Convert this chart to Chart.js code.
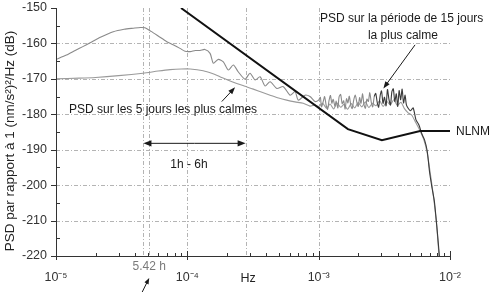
<!DOCTYPE html>
<html><head><meta charset="utf-8">
<script src="https://cdn.jsdelivr.net/npm/chart.js@4.4.0/dist/chart.umd.min.js"></script>
<style>html,body{margin:0;padding:0;background:#fff}#wrap{width:492px;height:292px}</style>
</head><body><div id="wrap"><canvas id="c" width="492" height="292"></canvas></div>
<script>
// ---- data ----
const freq15 = [1.0e-5,1.2e-5,1.4e-5,1.6e-5,1.82e-5,2.2e-5,2.73e-5,3.3e-5,3.88e-5,4.4e-5,4.76e-5,5.3e-5,6.0e-5,6.97e-5,7.8e-5,8.79e-5,9.6e-5,1.05e-4,1.15e-4,1.25e-4,1.36e-4,1.49e-4,1.58e-4,1.72e-4,1.88e-4,2.05e-4,2.24e-4,2.44e-4,2.75e-4,3.00e-4,3.28e-4,3.58e-4,3.91e-4,4.27e-4,4.80e-4,5.38e-4,6.06e-4,6.61e-4,7.00e-4,7.87e-4,8.59e-4,9.39e-4,
 1.00e-3,1.03e-3,1.05e-3,1.08e-3,1.11e-3,1.14e-3,1.17e-3,1.20e-3,1.23e-3,1.26e-3,1.29e-3,1.33e-3,1.36e-3,1.40e-3,1.43e-3,1.47e-3,1.51e-3,1.55e-3,1.59e-3,1.63e-3,1.67e-3,1.71e-3,1.76e-3,1.80e-3,1.85e-3,1.90e-3,1.95e-3,2.00e-3,2.05e-3,2.10e-3,2.16e-3,2.21e-3,2.27e-3,2.33e-3,2.39e-3,2.45e-3,2.52e-3,2.58e-3,2.65e-3,2.72e-3,2.79e-3,2.86e-3,2.94e-3,3.01e-3,3.09e-3,3.17e-3,3.26e-3,3.34e-3,3.43e-3,3.52e-3,3.61e-3,3.70e-3,3.80e-3,3.90e-3,4.00e-3,4.10e-3,4.21e-3,4.32e-3,4.43e-3,4.55e-3,4.67e-3,
 5.0e-3,5.24e-3,5.5e-3,5.8e-3,6.1e-3,6.4e-3,6.7e-3,7.0e-3,7.3e-3,7.6e-3,8.0e-3,8.3e-3];
const psd15 = [-164.5,-163.3,-162.0,-160.9,-159.8,-158.2,-156.7,-156.0,-155.7,-155.5,-155.6,-156.6,-157.9,-159.5,-160.4,-161.4,-162.2,-162.3,-162.0,-162.0,-161.7,-162.8,-165.6,-164.5,-165.2,-167.5,-166.1,-168.0,-170.1,-168.4,-170.3,-169.4,-172.0,-170.8,-172.7,-172.2,-174.6,-173.6,-176.0,-174.6,-175.0,-176.4,
 -176.0,-175.2,-177.9,-176.6,-175.0,-177.4,-178.6,-176.1,-174.7,-176.9,-175.8,-177.7,-176.3,-178.2,-175.1,-174.4,-177.0,-176.2,-178.5,-175.6,-176.8,-174.9,-177.6,-178.4,-175.9,-174.6,-176.5,-177.8,-175.3,-176.9,-174.2,-177.2,-178.3,-175.7,-176.4,-173.9,-176.8,-177.9,-175.0,-174.1,-176.6,-178.0,-174.7,-173.4,-176.9,-175.2,-177.6,-173.0,-175.8,-177.4,-173.6,-172.8,-176.4,-174.2,-177.8,-173.3,-175.9,-172.9,-176.8,-174.6,-177.5,
 -179.0,-178.2,-181.5,-183.0,-185.5,-187.2,-190.3,-196.5,-200.8,-204.5,-213.0,-220.0];

const freq5 = [1.0e-5,1.5e-5,2.0e-5,3.0e-5,4.6e-5,6.0e-5,7.4e-5,9.0e-5,1.05e-4,1.32e-4,1.55e-4,1.77e-4,2.05e-4,2.38e-4,2.75e-4,3.18e-4,3.70e-4,4.27e-4,4.95e-4,5.71e-4,6.6e-4,7.63e-4,8.59e-4,9.4e-4,
 1.0e-3,1.07e-3,1.15e-3,1.22e-3,1.3e-3,1.38e-3,1.47e-3,1.56e-3,1.66e-3,1.77e-3,1.88e-3,2.0e-3,2.13e-3,2.27e-3,2.41e-3,2.57e-3,2.73e-3,2.91e-3,3.10e-3,3.30e-3,3.51e-3,3.73e-3,3.97e-3,4.23e-3,4.50e-3,4.8e-3,5.1e-3,5.5e-3,5.9e-3,6.3e-3,6.7e-3,7.1e-3,7.5e-3,7.9e-3,8.25e-3];
const psd5 = [-170.0,-169.8,-169.6,-169.1,-168.4,-167.8,-167.4,-167.2,-167.2,-167.7,-168.5,-169.4,-170.4,-171.3,-172.1,-172.9,-173.8,-174.6,-175.4,-176.0,-176.5,-176.9,-177.7,-177.4,
 -177.8,-176.9,-178.3,-177.1,-178.5,-176.8,-178.0,-177.2,-178.6,-177.0,-178.2,-176.7,-177.9,-176.5,-178.1,-176.9,-177.6,-176.2,-177.8,-176.4,-177.3,-175.9,-177.5,-176.6,-178.4,-179.6,-180.2,-182.4,-184.6,-187.0,-190.8,-197.0,-203.5,-211.0,-220.0];

const freqNLNM = [8.95e-5,1.67e-3,3.03e-3,5.92e-3,1.0e-2];
const psdNLNM  = [-150.0,-184.2,-187.3,-184.7,-184.7];

const yTicks = [-150,-160,-170,-180,-190,-200,-210,-220];
const xTickValues = [1e-5,1e-4,1e-3,1e-2];
const xTickLabels = ['10\u207B\u2075','10\u207B\u2074','10\u207B\u00B3','10\u207B\u00B2'];
const markerHours = [6, 5.42, 1];          // vertical reference lines (periods in hours)
const yTitle = 'PSD par rapport à 1 (nm/s²)²/Hz (dB)';
const xTitle = 'Hz';

// ---- chart ----
const FONT = 'Liberation Sans, Arial, Helvetica, sans-serif';
Chart.defaults.font.family = FONT;
const hzToF = h => 1/(h*3600);

function arrow(ctx, x1, y1, x2, y2, head) {
  const ang = Math.atan2(y2-y1, x2-x1);
  ctx.beginPath(); ctx.moveTo(x1,y1); ctx.lineTo(x2 - Math.cos(ang)*head*0.8, y2 - Math.sin(ang)*head*0.8); ctx.stroke();
  ctx.beginPath();
  ctx.moveTo(x2,y2);
  ctx.lineTo(x2 - head*Math.cos(ang) + head*0.38*Math.sin(ang), y2 - head*Math.sin(ang) - head*0.38*Math.cos(ang));
  ctx.lineTo(x2 - head*Math.cos(ang) - head*0.38*Math.sin(ang), y2 - head*Math.sin(ang) + head*0.38*Math.cos(ang));
  ctx.closePath(); ctx.fill();
}

const decor = {
  id: 'decor',
  beforeDatasetsDraw(chart) {
    const {ctx, chartArea: a, scales: {x, y}} = chart;
    ctx.save();
    ctx.strokeStyle = '#b4b4b4'; ctx.lineWidth = 1; ctx.setLineDash([4,2,1,2]);
    yTicks.forEach(v => {
      if (v > -220 && v < -150) {
        const py = Math.round(y.getPixelForValue(v)) + 0.5;
        ctx.beginPath(); ctx.moveTo(a.left, py); ctx.lineTo(a.right, py); ctx.stroke();
      }
    });
    const vlines = [1e-4, 1e-3].concat(markerHours.map(hzToF));
    vlines.forEach(f => {
      const px = Math.round(x.getPixelForValue(f)) + 0.5;
      ctx.beginPath(); ctx.moveTo(px, a.top); ctx.lineTo(px, a.bottom); ctx.stroke();
    });
    ctx.restore();
  },
  afterDraw(chart) {
    const {ctx, chartArea: a, scales: {x, y}} = chart;
    ctx.save();
    ctx.strokeStyle = '#333'; ctx.lineWidth = 1; ctx.setLineDash([]);
    // axis lines
    ctx.beginPath(); ctx.moveTo(a.left+0.5, a.top); ctx.lineTo(a.left+0.5, a.bottom+0.5); ctx.lineTo(a.right, a.bottom+0.5); ctx.stroke();
    // x ticks
    for (let d = -5; d <= -2; d++) {
      const px = Math.round(x.getPixelForValue(Math.pow(10, d))) + 0.5;
      ctx.beginPath(); ctx.moveTo(px, a.bottom - 5); ctx.lineTo(px, a.bottom + 4); ctx.stroke();
      if (d < -2) for (let k = 2; k <= 9; k++) {
        const pm = Math.round(x.getPixelForValue(k*Math.pow(10, d))) + 0.5;
        ctx.beginPath(); ctx.moveTo(pm, a.bottom - 3); ctx.lineTo(pm, a.bottom); ctx.stroke();
      }
    }
    // y ticks
    for (let v = -220; v <= -150; v += 5) {
      const py = Math.round(y.getPixelForValue(v)) + 0.5;
      ctx.beginPath();
      if (v % 10 === 0) { ctx.moveTo(a.left - 5, py); ctx.lineTo(a.left, py); }
      else { ctx.moveTo(a.left, py); ctx.lineTo(a.left + 4, py); }
      ctx.stroke();
    }
    // y title
    ctx.fillStyle = '#222';
    ctx.font = '13.5px ' + FONT;
    ctx.textAlign = 'center'; ctx.textBaseline = 'middle';
    ctx.save(); ctx.translate(10, (a.top + a.bottom)/2 + 9); ctx.rotate(-Math.PI/2); ctx.fillText(yTitle, 0, 0); ctx.restore();
    // x title
    ctx.font = '12.5px ' + FONT;
    ctx.fillText(xTitle, x.getPixelForValue(2.9e-4), a.bottom + 23);

    // annotations
    ctx.font = '12px ' + FONT;
    ctx.fillStyle = '#1a1a1a';
    ctx.fillText('PSD sur la période de 15 jours', x.getPixelForValue(4.28e-3), y.getPixelForValue(-152.9));
    ctx.fillText('la plus calme', x.getPixelForValue(4.38e-3), y.getPixelForValue(-157.9));
    ctx.fillText('PSD sur les 5 jours les plus calmes', x.getPixelForValue(6.53e-5), y.getPixelForValue(-178.6));
    ctx.fillText('1h - 6h', x.getPixelForValue(1.03e-4), y.getPixelForValue(-194.3));
    ctx.textAlign = 'left';
    ctx.fillText('NLNM', x.getPixelForValue(1e-2) + 6, y.getPixelForValue(-184.8));
    ctx.textAlign = 'center';
    ctx.fillStyle = '#7a7a7a';
    ctx.fillText('5.42 h', x.getPixelForValue(hzToF(5.42)), a.bottom + 11);

    // arrows
    ctx.strokeStyle = '#1a1a1a'; ctx.fillStyle = '#1a1a1a'; ctx.lineWidth = 1;
    arrow(ctx, x.getPixelForValue(5.42e-3), y.getPixelForValue(-160.4), x.getPixelForValue(3.11e-3), y.getPixelForValue(-172.7), 7);
    arrow(ctx, x.getPixelForValue(1.83e-4), y.getPixelForValue(-176.4), x.getPixelForValue(2.31e-4), y.getPixelForValue(-172.4), 7);
    const ya = y.getPixelForValue(-188.2);
    const x6 = x.getPixelForValue(hzToF(6)), x1 = x.getPixelForValue(hzToF(1));
    arrow(ctx, (x6+x1)/2, ya, x6, ya, 8);
    arrow(ctx, (x6+x1)/2, ya, x1, ya, 8);
    const x542 = x.getPixelForValue(hzToF(5.42));
    arrow(ctx, x542 - 7, a.bottom + 36, x542, a.bottom + 22, 6);
    ctx.restore();
  }
};

new Chart(document.getElementById('c'), {
  type: 'line',
  data: {
    datasets: [
      { label: 'PSD sur les 5 jours les plus calmes', data: freq5.map((f,i)=>({x:f, y:psd5[i]})),
        borderColor: '#9a9a9a', borderWidth: 1.1, pointRadius: 0, tension: 0.25, order: 3 },
      { label: 'PSD sur la période de 15 jours la plus calme', data: freq15.map((f,i)=>({x:f, y:psd15[i]})),
        borderColor: '#8a8a8a', borderWidth: 1.1, pointRadius: 0, tension: 0.25, order: 2,
        segment: { borderColor: c => c.p0.parsed.x >= 2.6e-3 ? '#3a3a3a' : undefined } },
      { label: 'NLNM', data: freqNLNM.map((f,i)=>({x:f, y:psdNLNM[i]})),
        borderColor: '#111', borderWidth: 2, pointRadius: 0, tension: 0, order: 1 }
    ]
  },
  options: {
    responsive: false, animation: false, devicePixelRatio: 1,
    layout: { padding: { top: 0, right: 42, left: 0, bottom: 0 } },
    plugins: { legend: { display: false }, tooltip: { enabled: false } },
    scales: {
      x: {
        type: 'logarithmic', min: 1e-5, max: 1e-2, position: 'bottom',
        grid: { display: false, drawTicks: false },
        border: { display: true, color: '#333', width: 1 },
        afterBuildTicks: s => { s.ticks = xTickValues.map(v => ({value: v})); },
        afterFit: s => { s.height = 36; },
        ticks: {
          autoSkip: false, maxRotation: 0, minRotation: 0, padding: 14, color: '#333',
          font: { size: 12.5, family: FONT },
          callback: v => { const i = xTickValues.findIndex(t => Math.abs(Math.log10(t) - Math.log10(v)) < 1e-6); return i >= 0 ? xTickLabels[i] : ''; }
        }
      },
      y: {
        min: -220, max: -150,
        grid: { display: false, drawTicks: false },
        border: { display: true, color: '#333', width: 1 },
        afterBuildTicks: s => { s.ticks = yTicks.map(v => ({value: v})); },
        afterFit: s => { s.width = 56; s.paddingTop = 8; s.paddingBottom = 0; },
        ticks: { padding: 9, color: '#333', font: { size: 12.5, family: FONT }, callback: v => String(v) }
      }
    }
  },
  plugins: [decor]
});
</script>
</body></html>
